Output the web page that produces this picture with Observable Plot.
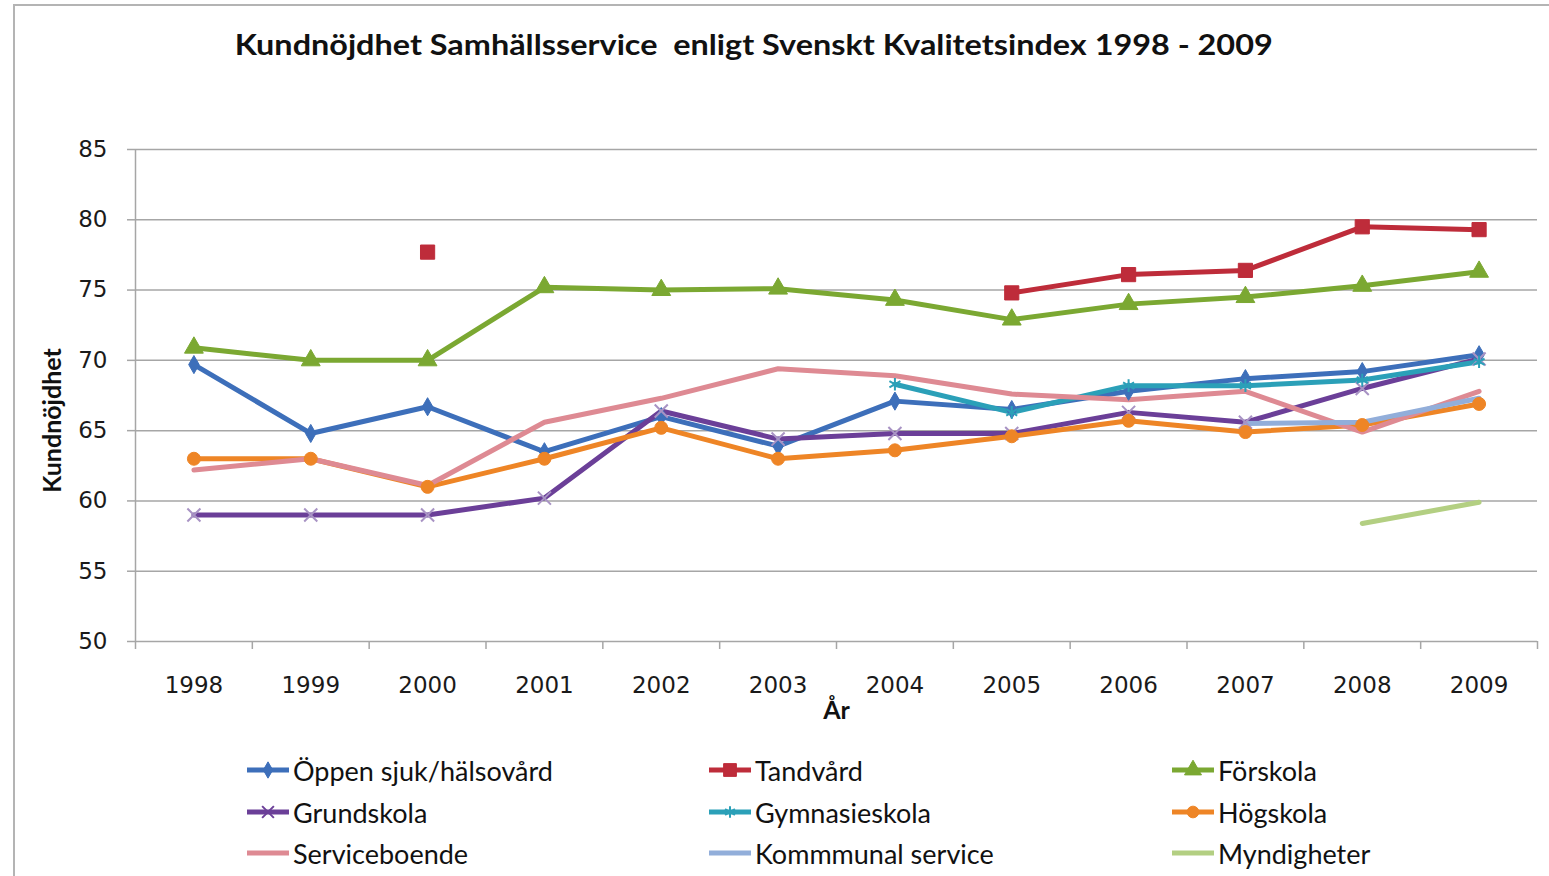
<!DOCTYPE html>
<html>
<head>
<meta charset="utf-8">
<script src="https://cdn.jsdelivr.net/npm/d3@7"></script>
<script src="https://cdn.jsdelivr.net/npm/@observablehq/plot@0.6"></script>
<style>
  html, body { margin: 0; padding: 0; background: #fff; }
  #page { position: relative; width: 1549px; height: 876px; overflow: hidden; background: #fff; }
  #frame { position: absolute; left: 13px; top: 4px; width: 1560px; height: 900px;
           border-top: 2px solid #b4b4b4; border-left: 2px solid #b4b4b4; }
  #title { position: absolute; left: 0; width: 1508px; top: 27px; text-align: center;
           font-family: Lato, "Open Sans", sans-serif; font-weight: 700; font-size: 28px; color: #111; white-space: nowrap; }
  #title span { display: inline-block; transform-origin: center; }
  #chart { position: absolute; left: 0; top: 100px; }
  #legend { position: absolute; left: 0; top: 750px; width: 1549px; height: 126px; }
  .item { position: absolute; display: flex; align-items: center; height: 40px;
          font-family: Lato, "Open Sans", sans-serif; font-size: 27px; color: #111; white-space: nowrap; }
  .item svg { margin-right: 2px; }
  svg [aria-label^="y-axis"] line, svg [aria-label^="x-axis"] line,
  svg [aria-label="y-axis tick"], svg [aria-label="x-axis tick"],
  svg [aria-label="y-axis tick"] *, svg [aria-label="x-axis tick"] * { stroke: #a6a6a6; stroke-width: 1.5px; }
</style>
</head>
<body>
<div id="page">
  <div id="frame"></div>
  <div id="title"><span>Kundnöjdhet Samhällsservice&nbsp; enligt Svenskt Kvalitetsindex 1998 - 2009</span></div>
  <div id="chart"></div>
  <div id="legend"></div>
</div>
<script>
// ---- Data ----
const years = [1998, 1999, 2000, 2001, 2002, 2003, 2004, 2005, 2006, 2007, 2008, 2009];
const yTicks = [50, 55, 60, 65, 70, 75, 80, 85];

const oppenSjukHalsovard = [69.7, 64.8, 66.7, 63.5, 66.0, 63.9, 67.1, 66.5, 67.8, 68.7, 69.2, 70.4];
const tandvard           = [null, null, 77.7, null, null, null, null, 74.8, 76.1, 76.4, 79.5, 79.3];
const forskola           = [70.9, 70.0, 70.0, 75.2, 75.0, 75.1, 74.3, 72.9, 74.0, 74.5, 75.3, 76.3];
const grundskola         = [59.0, 59.0, 59.0, 60.2, 66.4, 64.4, 64.8, 64.8, 66.3, 65.6, 68.0, 70.1];
const gymnasieskola      = [null, null, null, null, null, null, 68.3, 66.3, 68.2, 68.2, 68.6, 69.9];
const hogskola           = [63.0, 63.0, 61.0, 63.0, 65.2, 63.0, 63.6, 64.6, 65.7, 64.9, 65.4, 66.9];
const serviceboende      = [62.2, 63.0, 61.1, 65.6, 67.3, 69.4, 68.9, 67.6, 67.2, 67.8, 64.9, 67.8];
const kommunalService    = [null, null, null, null, null, null, null, null, null, 65.5, 65.6, 67.3];
const myndigheter        = [null, null, null, null, null, null, null, null, null, null, 58.4, 59.9];

const seriesNames = ["Öppen sjuk/hälsovård", "Tandvård", "Förskola", "Grundskola", "Gymnasieskola",
                     "Högskola", "Serviceboende", "Kommmunal service", "Myndigheter"];
const seriesValues = [oppenSjukHalsovard, tandvard, forskola, grundskola, gymnasieskola,
                      hogskola, serviceboende, kommunalService, myndigheter];
const seriesColors = ["#3d6fba", "#be2c3a", "#7ba832", "#6b3f98", "#2ba0b8",
                      "#ee8526", "#de8a93", "#92aeda", "#b3cf82"];
const seriesSymbols = ["diamond", "square", "triangle", "times", "asterisk", "circle", null, null, null];
const seriesSymbolSize = [5.5, 8, 7, 6, 6, 6.5, 0, 0, 0];

// ---- Build table ----
const table = [];
seriesNames.forEach((name, i) => {
  years.forEach((yr, j) => {
    const v = seriesValues[i][j];
    table.push({series: name, year: yr, value: v == null ? NaN : v});
  });
});
const boundaries = [years[0] - 0.5, ...years.map(y => y + 0.5)];

const marks = [
  Plot.ruleY(yTicks, {stroke: "#a6a6a6", strokeWidth: 1.5}),
  Plot.ruleX([boundaries[0]], {stroke: "#a6a6a6", strokeWidth: 1.5}),
  Plot.line(table, {x: "year", y: "value", z: "series", stroke: "series",
                    strokeWidth: 5, strokeLinejoin: "round", strokeLinecap: "round"})
];
seriesNames.forEach((name, i) => {
  const sym = seriesSymbols[i];
  if (!sym) return;
  const pts = table.filter(d => d.series === name && isFinite(d.value));
  const hollow = sym === "times" || sym === "asterisk" || sym === "plus";
  marks.push(Plot.dot(pts, {
    x: "year", y: "value", symbol: () => sym, r: seriesSymbolSize[i],
    fill: hollow ? "none" : seriesColors[i],
    stroke: hollow ? (sym === "times" ? "#a893c4" : seriesColors[i]) : seriesColors[i],
    strokeWidth: hollow ? 2 : 1
  }));
});
marks.push(Plot.text(years, {x: d => d, y: () => 50, dy: 44, text: d => String(d),
                             fontSize: 23, fill: "#1a1a1a"}));
marks.push(Plot.text(["År"], {frameAnchor: "bottom", dy: 77, text: d => d,
                              fontSize: 25, fontWeight: "bold", fill: "#111",
                              fontFamily: "Lato, 'Open Sans', sans-serif"}));
marks.push(Plot.text(["Kundnöjdhet"], {frameAnchor: "left", textAnchor: "middle", dx: -83, dy: 25, rotate: -90,
                                       text: d => d, fontSize: 25, fontWeight: "bold", fill: "#111",
                                       fontFamily: "Lato, 'Open Sans', sans-serif"}));

const chart = Plot.plot({
  width: 1549, height: 640,
  marginTop: 49, marginBottom: 99, marginLeft: 135, marginRight: 12,
  style: {fontFamily: "'DejaVu Sans', Verdana, sans-serif", fontSize: "23px", color: "#1a1a1a", background: "transparent"},
  x: {type: "linear", domain: [boundaries[0], boundaries[boundaries.length - 1]], ticks: boundaries,
      tickFormat: () => "", tickSize: 8, label: null},
  y: {domain: [50, 85], ticks: yTicks, tickSize: 8, tickPadding: 20, label: null},
  color: {domain: seriesNames, range: seriesColors},
  marks
});
document.getElementById("chart").appendChild(chart);

// ---- Legend ----
const legend = document.getElementById("legend");
const colX = [245, 707, 1170];
const rowY = [0, 42, 83];
seriesNames.forEach((name, i) => {
  const item = document.createElement("div");
  item.className = "item";
  item.style.left = colX[i % 3] + "px";
  item.style.top = rowY[Math.floor(i / 3)] + "px";
  const sw = d3.create("svg").attr("width", 46).attr("height", 20);
  sw.append("line").attr("x1", 2).attr("x2", 44).attr("y1", 10).attr("y2", 10)
    .attr("stroke", seriesColors[i]).attr("stroke-width", 5);
  const sym = seriesSymbols[i];
  if (sym) {
    const symMap = {diamond: d3.symbolDiamond, square: d3.symbolSquare, triangle: d3.symbolTriangle,
                    times: d3.symbolTimes, asterisk: d3.symbolAsterisk, circle: d3.symbolCircle};
    const hollow = sym === "times" || sym === "asterisk";
    sw.append("path").attr("transform", "translate(23,10)")
      .attr("d", d3.symbol(symMap[sym], Math.PI * Math.pow(seriesSymbolSize[i] * 0.9, 2))())
      .attr("fill", hollow ? "none" : seriesColors[i])
      .attr("stroke", seriesColors[i]).attr("stroke-width", hollow ? 2 : 1);
  }
  item.appendChild(sw.node());
  const label = document.createElement("span");
  label.textContent = name;
  item.appendChild(label);
  legend.appendChild(item);
});

// fit title width to the reference span
const t = document.querySelector("#title span");
const w = t.getBoundingClientRect().width;
t.style.transform = "scaleX(" + (1038 / w) + ")";
</script>
</body>
</html>
